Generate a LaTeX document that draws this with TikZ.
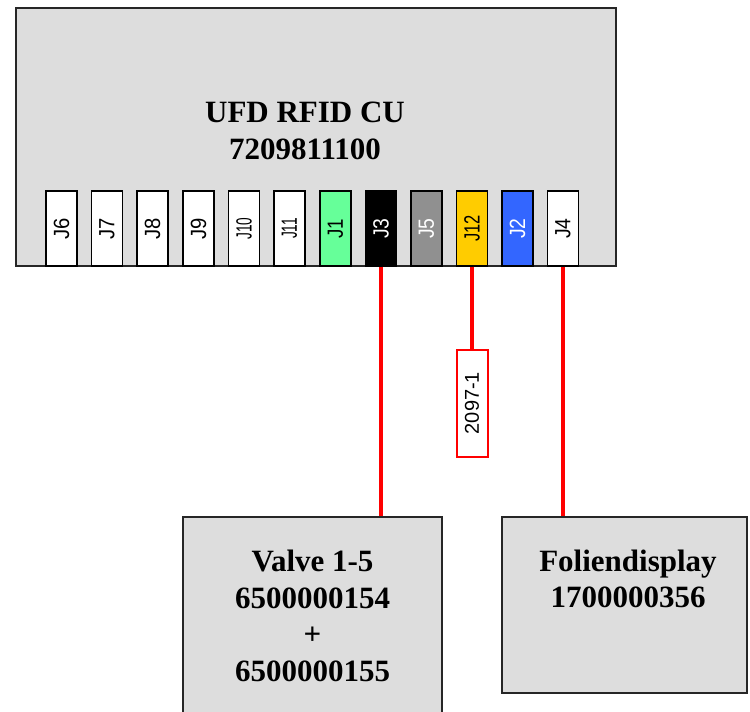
\documentclass[tikz,border=0pt]{standalone}
\usepackage{fontspec}
\setmainfont{Liberation Serif}
\newfontfamily\arialf{Liberation Sans}
\usepackage{graphicx}
\definecolor{boxgray}{HTML}{DDDDDD}
\definecolor{jgreen}{HTML}{66FF99}
\definecolor{jgray}{HTML}{909090}
\definecolor{jyellow}{HTML}{FFCC00}
\definecolor{jblue}{HTML}{3366FF}
\definecolor{wirered}{HTML}{FF0000}
\tikzset{
  bigbox/.style={draw=black!85, fill=boxgray, line width=1.3pt, inner sep=0pt},
  bigtext/.style={font=\bfseries\fontsize{31}{36.7}\selectfont, align=center, inner sep=0pt},
  conn/.style={draw=black, line width=1.2pt, minimum width=31pt, minimum height=75pt, inner sep=0pt, fill=white,
    font=\arialf\fontsize{22}{22}\selectfont},
  wire/.style={draw=wirered, line width=4pt},
  tag/.style={draw=wirered, line width=2pt, fill=white, minimum width=31pt, minimum height=107pt, inner sep=0pt,
    font=\arialf\fontsize{20}{20}\selectfont}
}
\newcommand\vlab[2]{\rotatebox{90}{\scalebox{#1}[1]{\arialf #2}}}
\begin{document}
\begin{tikzpicture}[x=1pt,y=-1pt]
\useasboundingbox (0,0) rectangle (750,712);
% main unit
\node[bigbox, minimum width=600pt, minimum height=258pt] (cu) at (316,137) {};
\node[bigtext] (cutitle) at (305,131) {UFD RFID CU\\7209811100};
% connectors
\node[conn] (J6)  at (61.5,228.5)  {\vlab{0.92}{J6}};
\node[conn] (J7)  at (107,228.5)   {\vlab{0.92}{J7}};
\node[conn] (J8)  at (152.5,228.5) {\vlab{0.92}{J8}};
\node[conn] (J9)  at (198.5,228.5) {\vlab{0.92}{J9}};
\node[conn] (J10) at (244,228.5)   {\vlab{0.62}{J10}};
\node[conn] (J11) at (289.5,228.5) {\vlab{0.62}{J11}};
\node[conn, fill=jgreen] (J1)  at (335.5,228.5) {\vlab{0.85}{J1}};
\node[conn, fill=black, text=white] (J3)  at (381,228.5) {\vlab{0.88}{J3}};
\node[conn, fill=jgray, text=white] (J5)  at (426.5,228.5) {\vlab{0.88}{J5}};
\node[conn, fill=jyellow] (J12) at (472,228.5) {\vlab{0.75}{J12}};
\node[conn, fill=jblue, text=white] (J2)  at (517.5,228.5) {\vlab{0.88}{J2}};
\node[conn] (J4)  at (563,228.5) {\vlab{0.88}{J4}};
% lower boxes
\node[bigbox, minimum width=259pt, minimum height=200pt] (valve) at (312.5,617) {};
\node[bigtext] (valvetext) at (312.5,616) {Valve 1-5\\6500000154\\+\\6500000155};
\node[bigbox, minimum width=245pt, minimum height=176pt] (fol) at (624.5,605) {};
\node[bigtext] (foltext) at (628,579) {Foliendisplay\\1700000356};
% cable tag
\node[tag] (tag) at (472,403) {\rotatebox{90}{2097-1}};
% wires
\draw[wire] (J3.south) -- (J3.south |- valve.north);
\draw[wire] (J12.south) -- (tag.north);
\draw[wire] (J4.south) -- (J4.south |- fol.north);
\end{tikzpicture}
\end{document}
